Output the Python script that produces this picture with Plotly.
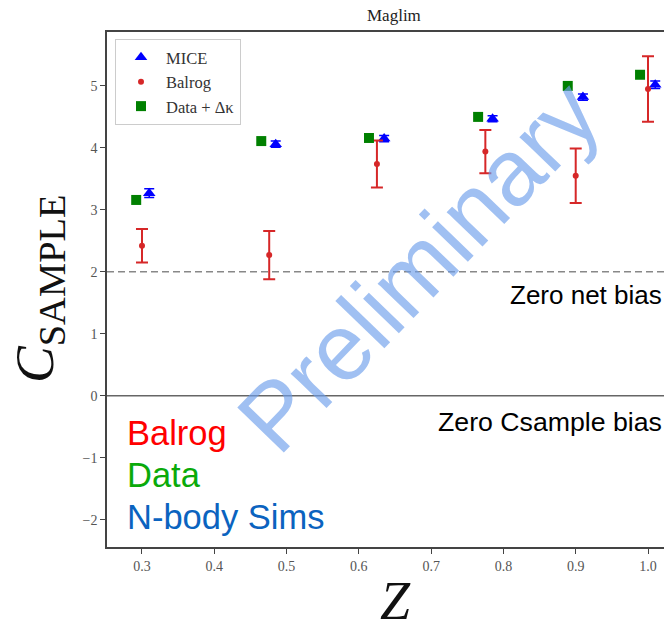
import plotly.graph_objects as go

# ---- data ----
z_mice = [0.310, 0.485, 0.635, 0.785, 0.910, 1.010]
c_mice = [3.27, 4.06, 4.15, 4.47, 4.82, 5.02]
e_mice = [0.07, 0.05, 0.05, 0.05, 0.05, 0.06]

z_balrog = [0.300, 0.476, 0.625, 0.775, 0.900, 1.000]
c_balrog = [2.42, 2.27, 3.74, 3.94, 3.55, 4.95]
e_balrog = [0.27, 0.39, 0.38, 0.35, 0.44, 0.53]

z_data = [0.292, 0.465, 0.614, 0.765, 0.889, 0.989]
c_data = [3.16, 4.11, 4.16, 4.50, 5.00, 5.18]

x_ticks = [0.3, 0.4, 0.5, 0.6, 0.7, 0.8, 0.9, 1.0]
x_ticktext = ["0.3", "0.4", "0.5", "0.6", "0.7", "0.8", "0.9", "1.0"]
y_ticks = [-2, -1, 0, 1, 2, 3, 4, 5]
y_ticktext = ["\u22122", "\u22121", "0", "1", "2", "3", "4", "5"]

zero_net_bias = 2.0
zero_csample_bias = 0.0

SERIF = "Liberation Serif, DejaVu Serif, serif"
SANS = "Liberation Sans, Arial, sans-serif"

# page body has an 8px margin; figure is sized so it ends at the window edge
OFF = 8
W, H = 672 - OFF, 624 - OFF
L, R, T, B = 107 - OFF, 0, 32 - OFF, 77
PW, PH = W - L - R, H - T - B
BOTTOM_REF = H - B + OFF  # plot bottom in window pixels


def px(xp):
    return (xp - OFF - L) / PW


def py(yp):
    return (BOTTOM_REF - yp) / PH


fig = go.Figure()

fig.add_trace(go.Scatter(
    x=z_mice, y=c_mice, mode="markers", name="MICE",
    marker=dict(symbol="triangle-up", size=11, color="#0000ff"),
    error_y=dict(type="data", array=e_mice, color="#0000ff", thickness=1.5, width=5),
))
fig.add_trace(go.Scatter(
    x=z_balrog, y=c_balrog, mode="markers", name="Balrog",
    marker=dict(symbol="circle", size=6, color="#d62728"),
    error_y=dict(type="data", array=e_balrog, color="#d62728", thickness=2, width=6),
))
fig.add_trace(go.Scatter(
    x=z_data, y=c_data, mode="markers", name="Data + \u0394\u03ba",
    marker=dict(symbol="square", size=10, color="#008000"),
))

# reference lines
fig.add_hline(y=zero_net_bias, line=dict(color="#888888", width=1.5, dash="7px,4px"), layer="below")
fig.add_hline(y=zero_csample_bias, line=dict(color="#666666", width=1.5), layer="below")

annotations = [
    dict(text="Maglim", x=px(394), y=py(16), xref="paper", yref="paper",
         showarrow=False, xanchor="center", yanchor="middle",
         font=dict(family=SERIF, size=17, color="#222222")),
    dict(text="<i>C</i><sub>SAMPLE</sub>", x=px(38), y=py(289), xref="paper", yref="paper",
         showarrow=False, xanchor="center", yanchor="middle", textangle=-90,
         font=dict(family=SERIF, size=55, color="#111111")),
    dict(text="<i>Z</i>", x=px(395), y=py(601), xref="paper", yref="paper",
         showarrow=False, xanchor="center", yanchor="middle",
         font=dict(family=SERIF, size=54, color="#111111")),
    dict(text="Zero net bias", x=px(664), y=py(295), xref="paper", yref="paper",
         showarrow=False, xanchor="right", yanchor="middle",
         font=dict(family=SANS, size=26, color="#000000")),
    dict(text="Zero Csample bias", x=px(664), y=py(422), xref="paper", yref="paper",
         showarrow=False, xanchor="right", yanchor="middle",
         font=dict(family=SANS, size=26.7, color="#000000")),
    dict(text="Balrog", x=px(125), y=py(433), xref="paper", yref="paper",
         showarrow=False, xanchor="left", yanchor="middle",
         font=dict(family=SANS, size=34.5, color="#ff0000")),
    dict(text="Data", x=px(125), y=py(475), xref="paper", yref="paper",
         showarrow=False, xanchor="left", yanchor="middle",
         font=dict(family=SANS, size=34.5, color="#0aaa0a")),
    dict(text="N-body Sims", x=px(125), y=py(517), xref="paper", yref="paper",
         showarrow=False, xanchor="left", yanchor="middle",
         font=dict(family=SANS, size=34.5, color="#0b63bf")),
    dict(text="Preliminary", x=px(418), y=py(266), xref="paper", yref="paper",
         showarrow=False, xanchor="center", yanchor="middle", textangle=-46,
         font=dict(family=SANS, size=94, color="rgba(109,158,235,0.65)")),
]

fig.update_layout(
    width=W, height=H,
    margin=dict(l=L, r=R, t=T, b=B, pad=0),
    paper_bgcolor="white", plot_bgcolor="white",
    showlegend=True,
    legend=dict(x=px(115), y=py(39), xanchor="left", yanchor="top",
                bgcolor="white", bordercolor="#cccccc", borderwidth=1,
                itemwidth=40,
                font=dict(family=SERIF, size=16.5, color="#333333")),
    annotations=annotations,
    xaxis=dict(range=[0.2516, 1.0332], tickvals=x_ticks, ticktext=x_ticktext,
               showgrid=False, zeroline=False, showline=True, mirror=True,
               linecolor="#444444", linewidth=1.5, ticks="outside", ticklen=5,
               tickcolor="#444444", tickfont=dict(family=SERIF, size=14, color="#555555")),
    yaxis=dict(range=[-2.44, 5.87], tickvals=y_ticks, ticktext=y_ticktext,
               showgrid=False, zeroline=False, showline=True, mirror=False,
               linecolor="#444444", linewidth=1.5, ticks="outside", ticklen=5,
               tickcolor="#444444", tickfont=dict(family=SERIF, size=14, color="#555555")),
)

fig.write_html("out.html")
